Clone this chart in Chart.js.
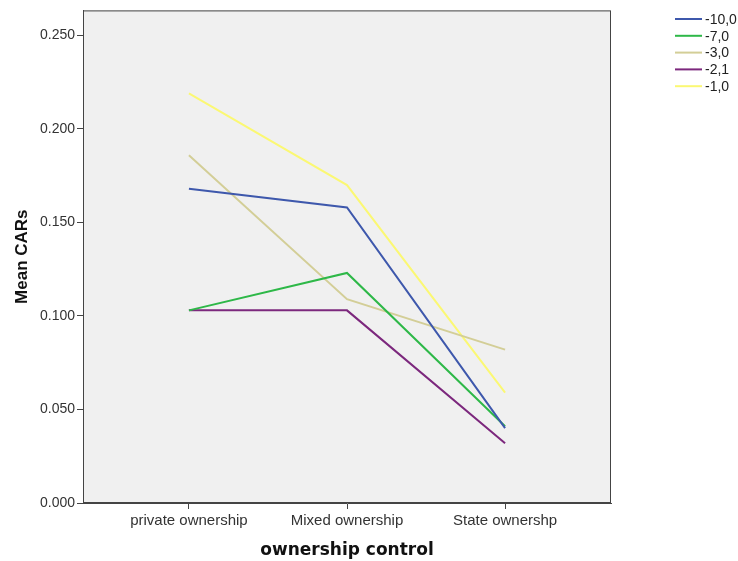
<!DOCTYPE html>
<html>
<head>
<meta charset="utf-8">
<script src="https://cdn.jsdelivr.net/npm/chart.js@4.4.0/dist/chart.umd.min.js"></script>
<style>
  html, body { margin: 0; padding: 0; background: #ffffff; }
  #wrap { width: 738px; height: 561px; }
</style>
</head>
<body>
<div id="wrap"><canvas id="myChart" width="738" height="561"></canvas></div>
<script>
// Données
const categories = ['private ownership', 'Mixed ownership', 'State ownershp'];
const seriesNames = ['-10,0', '-7,0', '-3,0', '-2,1', '-1,0'];
const seriesColors = ['#3e58ac', '#2eb848', '#d3ce97', '#7c287d', '#fbf873'];
const minus10 = [0.168, 0.158, 0.040];
const minus7 = [0.103, 0.123, 0.041];
const minus3 = [0.186, 0.109, 0.082];
const minus2_1 = [0.103, 0.103, 0.032];
const minus1 = [0.219, 0.170, 0.059];
const yTicks = [0, 0.05, 0.10, 0.15, 0.20, 0.25];

const allSeries = [minus10, minus7, minus3, minus2_1, minus1];

// Fond gris de la zone de tracé + cadre
const plotBackground = {
    id: 'plotBackground',
    beforeDraw(chart) {
        const { ctx, chartArea } = chart;
        ctx.save();
        ctx.fillStyle = '#f0f0f0';
        ctx.fillRect(chartArea.left, chartArea.top, chartArea.width, chartArea.height);
        ctx.restore();
    },
    afterDraw(chart) {
        const { ctx, chartArea } = chart;
        ctx.save();
        ctx.strokeStyle = '#444444';
        ctx.lineWidth = 1;
        ctx.strokeRect(chartArea.left + 0.5, chartArea.top + 0.5, chartArea.width - 1, chartArea.height - 1);
        ctx.restore();
    }
};

// Légende à droite, façon SPSS
const sideLegend = {
    id: 'sideLegend',
    afterDraw(chart) {
        const ctx = chart.ctx;
        ctx.save();
        ctx.font = '14px "Liberation Sans", Arial, sans-serif';
        ctx.textBaseline = 'middle';
        ctx.fillStyle = '#222222';
        chart.data.datasets.forEach((ds, i) => {
            const y = 19 + i * 16.8;
            ctx.strokeStyle = ds.borderColor;
            ctx.lineWidth = 2;
            ctx.beginPath();
            ctx.moveTo(675, y);
            ctx.lineTo(702, y);
            ctx.stroke();
            ctx.fillText(ds.label, 705, y + 1);
        });
        ctx.restore();
    }
};

function plotGraph() {
    const ctx = document.getElementById('myChart').getContext('2d');

    const datasets = allSeries.map((values, i) => ({
        label: seriesNames[i],
        data: values.map((v, j) => ({ x: j, y: v })),
        borderColor: seriesColors[i],
        backgroundColor: seriesColors[i],
        borderWidth: 2,
        pointRadius: 0,
        tension: 0
    }));

    new Chart(ctx, {
        type: 'line',
        data: { datasets: datasets },
        options: {
            responsive: false,
            animation: false,
            layout: { padding: { left: 0, top: 10, right: 127, bottom: 0 } },
            plugins: {
                legend: { display: false },
                tooltip: { enabled: false }
            },
            scales: {
                x: {
                    type: 'linear',
                    min: -0.67,
                    max: 2.67,
                    afterBuildTicks: (scale) => {
                        scale.ticks = categories.map((c, i) => ({ value: i }));
                    },
                    afterFit: (scale) => { scale.height = 58; },
                    grid: { drawOnChartArea: false, tickLength: 6, color: '#444444' },
                    border: { color: '#444444' },
                    ticks: {
                        color: '#333333',
                        padding: 3,
                        font: { family: '"Liberation Sans", Arial, sans-serif', size: 15 },
                        maxRotation: 0,
                        callback: (v) => categories[v]
                    },
                    title: {
                        display: true,
                        text: 'ownership control',
                        color: '#111111',
                        padding: { top: 3, bottom: 0 },
                        font: { family: '"DejaVu Sans", sans-serif', size: 17, weight: 'bold' }
                    }
                },
                y: {
                    min: 0,
                    max: 0.2634,
                    afterBuildTicks: (scale) => {
                        scale.ticks = yTicks.map(v => ({ value: v }));
                    },
                    afterFit: (scale) => { scale.width = 83; },
                    grid: { drawOnChartArea: false, tickLength: 6, color: '#444444' },
                    border: { color: '#444444' },
                    ticks: {
                        color: '#333333',
                        padding: 2,
                        font: { family: '"Liberation Sans", Arial, sans-serif', size: 14 },
                        callback: (v) => v.toFixed(3)
                    },
                    title: {
                        display: true,
                        text: 'Mean CARs',
                        color: '#111111',
                        padding: { top: 12, bottom: 4 },
                        font: { family: '"Liberation Sans", Arial, sans-serif', size: 17, weight: 'bold' }
                    }
                }
            }
        },
        plugins: [plotBackground, sideLegend]
    });
}

plotGraph();
</script>
</body>
</html>
